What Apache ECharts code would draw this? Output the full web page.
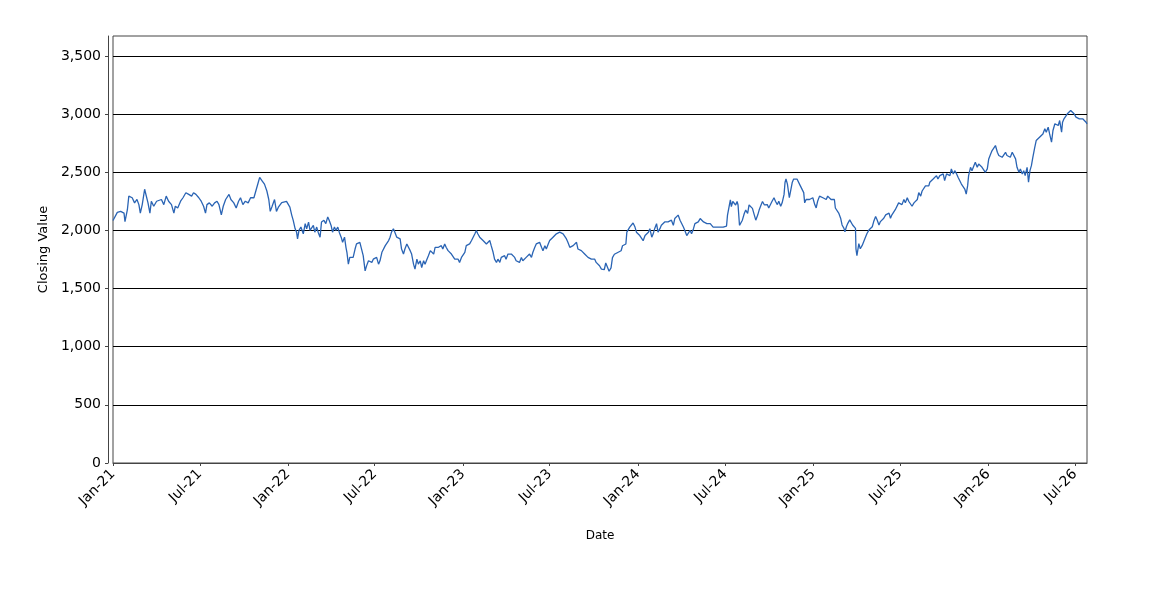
<!DOCTYPE html>
<html>
<head>
<meta charset="utf-8">
<script src="https://cdn.jsdelivr.net/npm/echarts@6.0.0/dist/echarts.min.js"></script>
<style>
html,body{margin:0;padding:0;background:#fff;}
#chart{width:1150px;height:600px;}
</style>
</head>
<body>
<div id="chart"></div>
<script>
// ---- data ----
const dates = [
'2021-01-01','2021-01-03','2021-01-10','2021-01-17','2021-01-24','2021-01-26','2021-01-31','2021-02-03','2021-02-10','2021-02-15','2021-02-20','2021-02-24','2021-02-27','2021-03-03','2021-03-08','2021-03-12','2021-03-15','2021-03-19','2021-03-22','2021-03-27','2021-04-02','2021-04-06','2021-04-12','2021-04-17','2021-04-22','2021-04-27','2021-05-03','2021-05-08','2021-05-11','2021-05-16','2021-05-22','2021-05-27','2021-06-02','2021-06-08','2021-06-14','2021-06-18','2021-06-23','2021-06-29','2021-07-04','2021-07-09','2021-07-13','2021-07-16','2021-07-21','2021-07-27','2021-08-01','2021-08-06','2021-08-10','2021-08-15','2021-08-19','2021-08-24','2021-08-31','2021-09-04','2021-09-10','2021-09-15','2021-09-20','2021-09-24','2021-09-29','2021-10-04','2021-10-10','2021-10-15','2021-10-22','2021-10-27','2021-10-31','2021-11-03','2021-11-08','2021-11-13','2021-11-18','2021-11-22','2021-11-25','2021-11-29','2021-12-04','2021-12-08','2021-12-12','2021-12-19','2021-12-29',
'2022-01-05','2022-01-09','2022-01-12','2022-01-16','2022-01-19','2022-01-21','2022-01-24','2022-01-28','2022-02-02','2022-02-06','2022-02-09','2022-02-13','2022-02-16','2022-02-20','2022-02-23','2022-02-26','2022-03-02','2022-03-05','2022-03-09','2022-03-12','2022-03-17','2022-03-21','2022-03-25','2022-03-28','2022-04-01','2022-04-04','2022-04-08','2022-04-11','2022-04-15','2022-04-18','2022-04-22','2022-04-25','2022-04-29','2022-05-02','2022-05-04','2022-05-07','2022-05-10','2022-05-14','2022-05-17','2022-05-21','2022-05-24','2022-05-28','2022-05-31','2022-06-04','2022-06-07','2022-06-11','2022-06-14','2022-06-18','2022-06-21','2022-06-25','2022-06-28','2022-07-02','2022-07-05','2022-07-09','2022-07-12','2022-07-16','2022-07-19','2022-07-23','2022-07-26','2022-07-30','2022-08-02','2022-08-05','2022-08-09','2022-08-12','2022-08-16','2022-08-19','2022-08-23','2022-08-26','2022-08-30','2022-09-02','2022-09-06','2022-09-09','2022-09-13','2022-09-16','2022-09-20','2022-09-23','2022-09-27','2022-09-30','2022-10-04','2022-10-07','2022-10-11','2022-10-14','2022-10-18','2022-10-21','2022-10-25','2022-10-28','2022-11-01','2022-11-04','2022-11-07','2022-11-11','2022-11-14','2022-11-17','2022-11-20','2022-11-24','2022-11-27','2022-12-01','2022-12-04','2022-12-08','2022-12-11','2022-12-15','2022-12-18','2022-12-22','2022-12-25','2022-12-29',
'2023-01-01','2023-01-05','2023-01-08','2023-01-12','2023-01-15','2023-01-19','2023-01-22','2023-01-26','2023-01-29','2023-02-01','2023-02-05','2023-02-08','2023-02-12','2023-02-15','2023-02-19','2023-02-22','2023-02-26','2023-03-01','2023-03-05','2023-03-08','2023-03-12','2023-03-15','2023-03-19','2023-03-22','2023-03-26','2023-03-29','2023-04-01','2023-04-05','2023-04-08','2023-04-12','2023-04-15','2023-04-19','2023-04-22','2023-04-26','2023-04-29','2023-05-03','2023-05-06','2023-05-10','2023-05-13','2023-05-17','2023-05-20','2023-05-24','2023-05-27','2023-05-31','2023-06-03','2023-06-07','2023-06-10','2023-06-14','2023-06-17','2023-06-21','2023-06-24','2023-06-28','2023-07-01','2023-07-04','2023-07-08','2023-07-11','2023-07-15','2023-07-18','2023-07-22','2023-07-25','2023-07-29','2023-08-01','2023-08-05','2023-08-08','2023-08-12','2023-08-15','2023-08-19','2023-08-22','2023-08-26','2023-08-29','2023-09-01','2023-09-05','2023-09-08','2023-09-12','2023-09-15','2023-09-19','2023-09-22','2023-09-26','2023-09-29','2023-10-03','2023-10-06','2023-10-10','2023-10-13','2023-10-17','2023-10-20','2023-10-23','2023-10-26','2023-10-30','2023-11-02','2023-11-06','2023-11-09','2023-11-13','2023-11-16','2023-11-20','2023-11-23','2023-11-27','2023-11-30','2023-12-04','2023-12-07','2023-12-09','2023-12-12','2023-12-15','2023-12-19','2023-12-22','2023-12-26','2023-12-29',
'2024-01-02','2024-01-05','2024-01-09','2024-01-12','2024-01-16','2024-01-19','2024-01-23','2024-01-26','2024-01-30','2024-02-02','2024-02-05','2024-02-09','2024-02-12','2024-02-16','2024-02-19','2024-02-23','2024-02-26','2024-03-01','2024-03-04','2024-03-08','2024-03-11','2024-03-15','2024-03-18','2024-03-22','2024-03-25','2024-03-29','2024-04-01','2024-04-05','2024-04-08','2024-04-12','2024-04-15','2024-04-19','2024-04-22','2024-04-26','2024-04-29','2024-05-03','2024-05-06','2024-05-10','2024-05-13','2024-05-17','2024-05-20','2024-05-24','2024-05-27','2024-05-31','2024-06-03','2024-06-06','2024-06-10','2024-06-13','2024-06-17','2024-06-20','2024-06-24','2024-06-27','2024-07-01','2024-07-04','2024-07-06','2024-07-10','2024-07-12','2024-07-14','2024-07-17','2024-07-20','2024-07-23','2024-07-26','2024-07-28','2024-07-31','2024-08-03','2024-08-06','2024-08-10','2024-08-13','2024-08-17','2024-08-20','2024-08-24','2024-08-27','2024-08-31','2024-09-03','2024-09-07','2024-09-10','2024-09-14','2024-09-17','2024-09-21','2024-09-24','2024-09-27','2024-09-30','2024-10-04','2024-10-07','2024-10-11','2024-10-14','2024-10-18','2024-10-21','2024-10-25','2024-10-28','2024-11-01','2024-11-03','2024-11-05','2024-11-08','2024-11-10','2024-11-12','2024-11-14','2024-11-18','2024-11-21','2024-11-25','2024-11-28','2024-12-02','2024-12-05','2024-12-09','2024-12-12','2024-12-14','2024-12-17','2024-12-21','2024-12-24','2024-12-28','2024-12-31',
'2025-01-04','2025-01-07','2025-01-10','2025-01-14','2025-01-17','2025-01-21','2025-01-24','2025-01-28','2025-01-31','2025-02-04','2025-02-07','2025-02-11','2025-02-14','2025-02-16','2025-02-20','2025-02-23','2025-02-27','2025-03-02','2025-03-06','2025-03-08','2025-03-11','2025-03-14','2025-03-18','2025-03-21','2025-03-24','2025-03-27','2025-03-30','2025-03-31','2025-04-02','2025-04-04','2025-04-06','2025-04-09','2025-04-13','2025-04-16','2025-04-20','2025-04-23','2025-04-27','2025-04-30','2025-05-04','2025-05-07','2025-05-11','2025-05-14','2025-05-18','2025-05-21','2025-05-25','2025-05-28','2025-06-01','2025-06-04','2025-06-08','2025-06-11','2025-06-14','2025-06-18','2025-06-21','2025-06-25','2025-06-28','2025-07-02','2025-07-05','2025-07-09','2025-07-12','2025-07-16','2025-07-19','2025-07-23','2025-07-26','2025-07-30','2025-08-02','2025-08-06','2025-08-09','2025-08-13','2025-08-16','2025-08-20','2025-08-23','2025-08-27','2025-08-30','2025-09-01','2025-09-04','2025-09-08','2025-09-11','2025-09-15','2025-09-18','2025-09-22','2025-09-25','2025-09-29','2025-10-02','2025-10-06','2025-10-09','2025-10-13','2025-10-16','2025-10-20','2025-10-23','2025-10-27','2025-10-30','2025-11-03','2025-11-06','2025-11-09','2025-11-13','2025-11-16','2025-11-19','2025-11-21','2025-11-25','2025-11-28','2025-12-02','2025-12-05','2025-12-09','2025-12-12','2025-12-16','2025-12-19','2025-12-23','2025-12-26','2025-12-30',
'2026-01-02','2026-01-06','2026-01-09','2026-01-13','2026-01-16','2026-01-20','2026-01-23','2026-01-27','2026-01-30','2026-02-02','2026-02-06','2026-02-09','2026-02-13','2026-02-16','2026-02-20','2026-02-23','2026-02-27','2026-03-02','2026-03-06','2026-03-09','2026-03-13','2026-03-16','2026-03-19','2026-03-23','2026-03-26','2026-03-29','2026-04-01','2026-04-04','2026-04-08','2026-04-11','2026-04-15','2026-04-18','2026-04-22','2026-04-25','2026-04-29','2026-05-02','2026-05-06','2026-05-09','2026-05-13','2026-05-16','2026-05-20','2026-05-23','2026-05-27','2026-05-30','2026-06-03','2026-06-05','2026-06-08','2026-06-12','2026-06-15','2026-06-19','2026-06-22','2026-06-26','2026-06-29','2026-07-03','2026-07-06','2026-07-10','2026-07-13','2026-07-17','2026-07-20','2026-07-24','2026-07-26'
];
const closes = [
2085,2091,2155,2164,2149,2076,2178,2295,2281,2237,2266,2222,2149,2222,2354,2339,2237,2149,2251,2208,2251,2237,2266,2222,2295,2251,2222,2149,2208,2193,2251,2281,2324,2310,2295,2324,2310,2281,2251,2208,2149,2222,2237,2208,2237,2251,2222,2134,2208,2266,2310,2266,2237,2193,2251,2281,2222,2251,2237,2281,2281,2354,2412,2456,2427,2398,2339,2266,2164,2208,2266,2164,2200,2240,2250,
2200,2130,2087,2014,1985,1927,2000,2029,1971,2058,2014,2072,2000,2014,2043,1985,2029,1985,1942,2072,2087,2058,2116,2087,2043,1985,2029,2000,2029,1985,1942,1898,1942,1855,1812,1710,1768,1783,1768,1840,1884,1869,1898,1913,1783,1652,1695,1739,1753,1725,1753,1739,1768,1710,1739,1812,1826,1869,1855,1913,1942,1985,2014,1985,1942,1956,1927,1840,1797,1840,1884,1898,1826,1797,1710,1667,1753,1710,1739,1681,1739,1710,1753,1783,1826,1840,1797,1855,1869,1855,1869,1869,1840,1884,1855,1826,1840,1797,1783,1753,1768,1753,1725,1768,
1753,1812,1869,1855,1884,1913,1927,1971,2000,1971,1942,1956,1913,1927,1884,1898,1913,1869,1812,1753,1725,1753,1725,1768,1753,1783,1753,1797,1783,1797,1783,1768,1739,1753,1725,1768,1739,1753,1768,1753,1797,1768,1812,1855,1884,1869,1898,1855,1826,1869,1840,1884,1913,1898,1942,1956,1971,1956,1985,2000,1971,1956,1927,1898,1855,1840,1869,1855,1898,1840,1855,1826,1840,1797,1783,1768,1783,1753,1739,1753,1725,1710,1696,1667,1652,1664,1720,1708,1649,1678,1766,1795,1781,1810,1795,1825,1868,1883,1883,1985,2000,2029,2044,2064,2029,1985,
1971,1956,1971,1912,1956,1971,1985,2015,1942,1971,2015,2058,1985,2015,2044,2058,2073,2058,2073,2058,2088,2044,2102,2117,2132,2088,2073,2029,2000,1956,1971,2000,1971,2015,2058,2073,2073,2102,2088,2073,2058,2058,2044,2058,2044,2029,2020,2029,2038,2029,2038,2029,2044,2038,2132,2219,2263,2205,2249,2263,2219,2249,2219,2044,2058,2088,2146,2175,2146,2219,2219,2190,2132,2088,2132,2175,2219,2249,2219,2234,2222,2193,2208,2251,2281,2251,2222,2251,2208,2237,2310,2412,2442,2398,2339,2281,2325,2412,2442,2442,2442,2427,2383,2368,2325,2237,2266,2281,2266,2251,2281,
2222,2193,2251,2295,2310,2281,2295,2266,2295,2281,2266,2281,2266,2193,2178,2149,2105,2047,2018,1988,2032,2061,2091,2105,2047,2061,2018,1842,1784,1769,1886,1842,1871,1871,1944,1974,2003,1988,2032,2076,2120,2091,2047,2076,2091,2105,2134,2120,2149,2105,2134,2149,2178,2164,2237,2251,2222,2266,2237,2281,2251,2266,2208,2237,2237,2266,2325,2295,2339,2354,2383,2368,2383,2414,2399,2442,2428,2471,2442,2471,2457,2486,2428,2486,2500,2471,2529,2486,2514,2486,2457,2471,2399,2414,2356,2313,2385,2471,2543,2514,2557,2586,2543,2572,2557,2543,2557,2500,2529,
2615,2658,2687,2672,2730,2672,2644,2658,2629,2615,2672,2644,2658,2629,2672,2658,2615,2543,2500,2529,2486,2514,2471,2543,2414,2514,2557,2629,2715,2773,2759,2802,2787,2830,2874,2845,2888,2830,2759,2859,2917,2931,2902,2945,2845,2931,2960,2974,3003,3017,3032,3017,3003,2974,2989,2960,2974,2960,2974,2931,2917
];
const xTickDates = ['2021-01-01','2021-07-01','2022-01-01','2022-07-01','2023-01-01','2023-07-01','2024-01-01','2024-07-01','2025-01-01','2025-07-01','2026-01-01','2026-07-01'];
const yTickValues = [0,500,1000,1500,2000,2500,3000,3500];
const monthNames = ['Jan','Feb','Mar','Apr','May','Jun','Jul','Aug','Sep','Oct','Nov','Dec'];

// ---- chart ----
const ts = s => Date.parse(s + 'T00:00:00Z');
const seriesData = dates.map((d, i) => [ts(d), closes[i]]);
const xTicks = xTickDates.map(ts);
const fmtDate = v => {
  const d = new Date(v);
  return monthNames[d.getUTCMonth()] + '-' + String(d.getUTCFullYear()).slice(2);
};
const chart = echarts.init(document.getElementById('chart'), null, {renderer: 'canvas'});
chart.setOption({
  animation: false,
  backgroundColor: '#ffffff',
  grid: {left: 113, right: 63, top: 36, bottom: 137, show: true, borderColor: '#444', borderWidth: 1, backgroundColor: 'transparent'},
  xAxis: {
    type: 'value',
    min: ts(dates[0]),
    max: ts(dates[dates.length - 1]),
    offset: 4,
    name: 'Date',
    nameLocation: 'middle',
    nameGap: 63,
    nameTextStyle: {fontFamily: 'DejaVu Sans', fontSize: 12, color: '#000'},
    axisLine: {show: true, lineStyle: {color: '#444', width: 1}},
    axisTick: {show: true, length: 3, customValues: xTicks, lineStyle: {color: '#444'}},
    axisLabel: {customValues: xTicks, rotate: 45, formatter: fmtDate, fontFamily: 'DejaVu Sans', fontSize: 14, color: '#000', margin: 5},
    splitLine: {show: false}
  },
  yAxis: {
    type: 'value',
    min: 0,
    max: 3672,
    interval: 500,
    offset: 5,
    name: 'Closing Value',
    nameLocation: 'middle',
    nameRotate: 90,
    nameGap: 57,
    nameTextStyle: {fontFamily: 'DejaVu Sans', fontSize: 13, color: '#000'},
    axisLine: {show: true, lineStyle: {color: '#444', width: 1}},
    axisTick: {show: true, length: 3, customValues: yTickValues, lineStyle: {color: '#444'}},
    axisLabel: {customValues: yTickValues, formatter: v => v.toLocaleString('en-US'), fontFamily: 'DejaVu Sans', fontSize: 14, color: '#000', margin: 7},
    splitLine: {show: true, lineStyle: {color: '#000', width: 1}}
  },
  series: [{
    type: 'line',
    data: seriesData,
    showSymbol: false,
    symbol: 'none',
    lineStyle: {color: '#2a64b4', width: 1.3},
    itemStyle: {color: '#2a64b4'}
  }]
});
</script>
</body>
</html>
